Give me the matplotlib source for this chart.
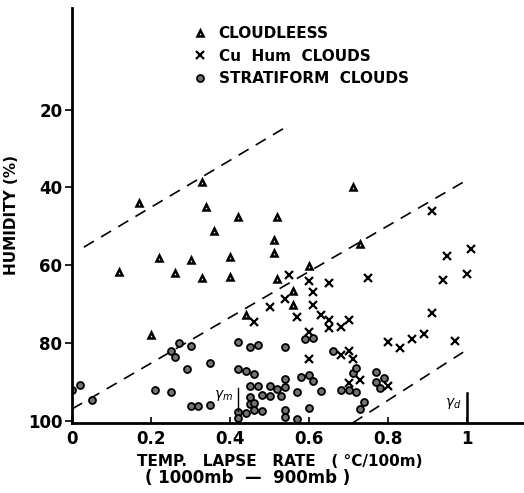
import numpy as np
import matplotlib.pyplot as plt

# lapse rate (degC/100m) and humidity (%) for each sounding
cloudless_rate = [0.17, 0.33, 0.34, 0.42, 0.36, 0.52, 0.51, 0.51, 0.71, 0.22, 0.30, 0.40,
                  0.12, 0.26, 0.33, 0.40, 0.73, 0.60, 0.52, 0.56, 0.56, 0.44, 0.20]
cloudless_hum = [44.1, 38.7, 45.1, 47.7, 51.3, 47.7, 53.6, 56.9, 39.9, 58.2, 58.7, 57.9,
                 61.8, 62.1, 63.3, 63.1, 54.6, 60.3, 63.6, 66.7, 70.3, 72.9, 78.0]

cumulus_rate = [0.91, 0.95, 1.01, 0.94, 1.00, 0.91, 0.55, 0.60, 0.65, 0.75, 0.61, 0.50,
                0.54, 0.61, 0.46, 0.57, 0.63, 0.65, 0.65, 0.68, 0.70, 0.60, 0.80, 0.83,
                0.86, 0.89, 0.97, 0.68, 0.70, 0.71, 0.60, 0.70, 0.73, 0.80]
cumulus_hum = [46.1, 57.7, 55.9, 63.9, 62.3, 72.3, 62.6, 64.1, 64.6, 63.3, 66.9, 70.8,
               68.7, 70.3, 74.7, 73.4, 72.9, 74.1, 76.2, 75.9, 74.1, 77.2, 79.8, 81.3,
               79.0, 77.7, 79.5, 83.1, 82.1, 84.2, 84.2, 90.3, 89.6, 91.1]

strat_rate = [0.00, 0.02, 0.05, 0.21, 0.25, 0.25, 0.27, 0.30, 0.26, 0.29, 0.35, 0.30,
              0.32, 0.35, 0.42, 0.45, 0.47, 0.54, 0.59, 0.61, 0.66, 0.42, 0.44, 0.46,
              0.54, 0.58, 0.60, 0.61, 0.63, 0.68, 0.70, 0.72, 0.71, 0.72, 0.77, 0.77,
              0.79, 0.78, 0.74, 0.73, 0.45, 0.47, 0.50, 0.52, 0.54, 0.50, 0.53, 0.57,
              0.48, 0.45, 0.45, 0.46, 0.46, 0.44, 0.48, 0.42, 0.54, 0.60, 0.54, 0.57, 0.42]
strat_hum = [92.1, 90.8, 94.7, 92.1, 92.6, 82.1, 80.1, 80.8, 83.7, 86.7, 85.2, 96.2,
             96.2, 96.0, 79.8, 81.1, 80.6, 81.1, 79.0, 78.8, 82.1, 86.7, 87.3, 88.0,
             89.3, 88.8, 88.3, 89.8, 92.4, 92.1, 92.1, 92.6, 87.8, 86.5, 87.5, 90.1,
             89.0, 91.6, 95.2, 97.0, 91.1, 91.1, 91.1, 91.9, 91.4, 93.7, 93.7, 92.6,
             93.4, 93.9, 95.7, 95.5, 97.3, 98.0, 97.5, 97.8, 97.3, 96.8, 99.1, 99.6, 99.3]

# dashed boundary lines: (x0, x1), (y0, y1)
bound_x = [(0.03, 0.55), (0.0, 1.0), (0.71, 0.99)]
bound_y = [(55.4, 24.0), (97.0, 38.1), (100.6, 82.4)]

gamma_m = 0.42
gamma_d = 1.0

fig = plt.figure(figsize=(5.24, 4.93), dpi=100)
ax = fig.add_axes([0.1374, 0.142, 0.8626, 0.8418])

for bx, by in zip(bound_x, bound_y):
    ax.plot(bx, by, color='black', lw=1.2, dashes=(7, 5))

ax.plot(cloudless_rate, cloudless_hum, ls='none', marker='^', ms=5, mfc='white',
        mec='black', mew=1.8, label='CLOUDLEESS')
ax.plot(cumulus_rate, cumulus_hum, ls='none', marker='x', ms=6, mec='black',
        mew=1.6, label='Cu  Hum  CLOUDS')
ax.plot(strat_rate, strat_hum, ls='none', marker='o', ms=5, mfc='0.45',
        mec='black', mew=1.3, label='STRATIFORM  CLOUDS')

# moist and dry adiabatic lapse rates
ax.plot([gamma_m, gamma_m], [91.5, 97.5], color='black', lw=1)
ax.text(gamma_m - 0.012, 93.5, r'$\gamma_m$', ha='right', va='center', fontsize=10)
ax.plot([gamma_d, gamma_d], [93, 100], color='black', lw=1.8)
ax.text(gamma_d - 0.015, 95.5, r'$\gamma_d$', ha='right', va='center', fontsize=10)

ax.set_xlim(0, 1.144)
ax.set_ylim(100.6, -6.1)

ax.set_xticks([0, 0.2, 0.4, 0.6, 0.8, 1.0])
ax.set_xticklabels(['0', '0.2', '0.4', '0.6', '0.8', '1'])
ax.set_yticks([20, 40, 60, 80, 100])

ax.tick_params(axis='x', direction='in', length=4, width=1.2, pad=5,
               labelsize=12)
ax.tick_params(axis='y', direction='out', length=5, width=1.2, pad=2,
               labelsize=12)
for lab in ax.get_xticklabels() + ax.get_yticklabels():
    lab.set_fontweight('bold')

for side in ['top', 'right']:
    ax.spines[side].set_visible(False)
for side in ['left', 'bottom']:
    ax.spines[side].set_linewidth(2)

ax.set_ylabel('HUMIDITY (%)', fontsize=11, fontweight='bold')
ax.yaxis.set_label_coords(-0.118, 0.5)

fig.text(0.533, 0.063, 'TEMP.   LAPSE   RATE   ( °C/100m)', ha='center',
         va='center', fontsize=11, fontweight='bold')
fig.text(0.472, 0.031, '( 1000mb  —  900mb )', ha='center', va='center',
         fontsize=12, fontweight='bold')

leg = ax.legend(loc='upper left', bbox_to_anchor=(0.25, 0.975), frameon=False,
                handlelength=1.0, handletextpad=0.7, labelspacing=0.5,
                borderpad=0, prop={'size': 11, 'weight': 'bold'})

fig.savefig('out.png', dpi=100)
